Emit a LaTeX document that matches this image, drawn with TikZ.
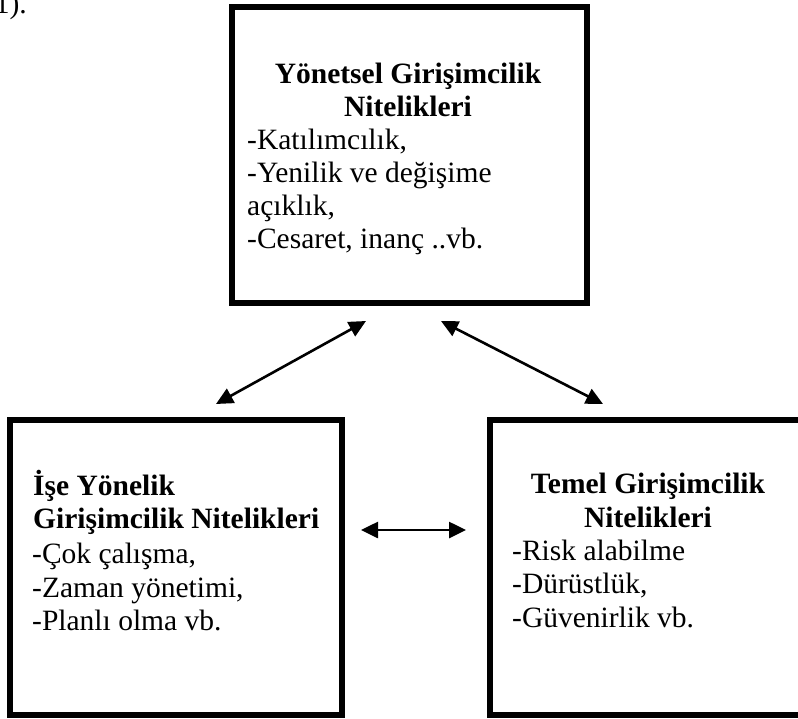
\documentclass[tikz,border=0pt]{standalone}
\usepackage{fontspec}
\setmainfont{Liberation Serif}
\usetikzlibrary{arrows.meta}
\tikzset{
  box/.style={draw=black, line width=5.5pt, rectangle, inner sep=0pt},
  txt/.style={inner sep=0pt, font=\fontsize{29.5}{33.5}\selectfont},
  head/.style={txt, font=\fontsize{29.5}{33.5}\selectfont\bfseries, align=center},
  body/.style={txt, align=left},
  link/.style={line width=2.6pt, {Triangle[length=17pt,width=16pt]}-{Triangle[length=17pt,width=16pt]}}
}
\begin{document}
\begin{tikzpicture}[x=1pt,y=-1pt]
\useasboundingbox (0,0) rectangle (798,718);
% boxes
\node[box, minimum width=355pt, minimum height=296pt] (top) at (409.5,155) {};
\node[box, minimum width=332pt, minimum height=295pt] (left) at (176,567.5) {};
\node[box, minimum width=330pt, minimum height=295pt] (right) at (655,567.5) {};
% stray caption fragment
\node[txt, anchor=base east] (cap) at (27,13) {1).};
% top box text
\node[head, anchor=base] (th1) at (408,83) {Yönetsel Girişimcilik};
\node[head, anchor=base] (th2) at (408,116) {Nitelikleri};
\node[body, anchor=base west] (tb1) at (247,149) {-Katılımcılık,};
\node[body, anchor=base west] (tb2) at (247,182) {-Yenilik ve değişime};
\node[body, anchor=base west] (tb3) at (247,215) {açıklık,};
\node[body, anchor=base west] (tb4) at (247,248) {-Cesaret, inanç ..vb.};
% left box text
\node[head, anchor=base west] (lh1) at (33,495) {İşe Yönelik};
\node[head, anchor=base west] (lh2) at (33,528) {Girişimcilik Nitelikleri};
\node[body, anchor=base west] (lb1) at (32,563) {-Çok çalışma,};
\node[body, anchor=base west] (lb2) at (32,597) {-Zaman yönetimi,};
\node[body, anchor=base west] (lb3) at (32,630) {-Planlı olma vb.};
% right box text
\node[head, anchor=base] (rh1) at (648,493) {Temel Girişimcilik};
\node[head, anchor=base] (rh2) at (648,527) {Nitelikleri};
\node[body, anchor=base west] (rb1) at (512,560) {-Risk alabilme};
\node[body, anchor=base west] (rb2) at (512,593) {-Dürüstlük,};
\node[body, anchor=base west] (rb3) at (512,627) {-Güvenirlik vb.};
% connector ends
\coordinate (l1) at (216,404);
\coordinate (t1) at (366,321);
\coordinate (t2) at (441,321);
\coordinate (r1) at (603,404);
\coordinate (h1) at (361,530);
\coordinate (h2) at (466,530);
\draw[link] (l1) -- (t1);
\draw[link] (t2) -- (r1);
\draw[link] (h1) -- (h2);
\end{tikzpicture}
\end{document}
